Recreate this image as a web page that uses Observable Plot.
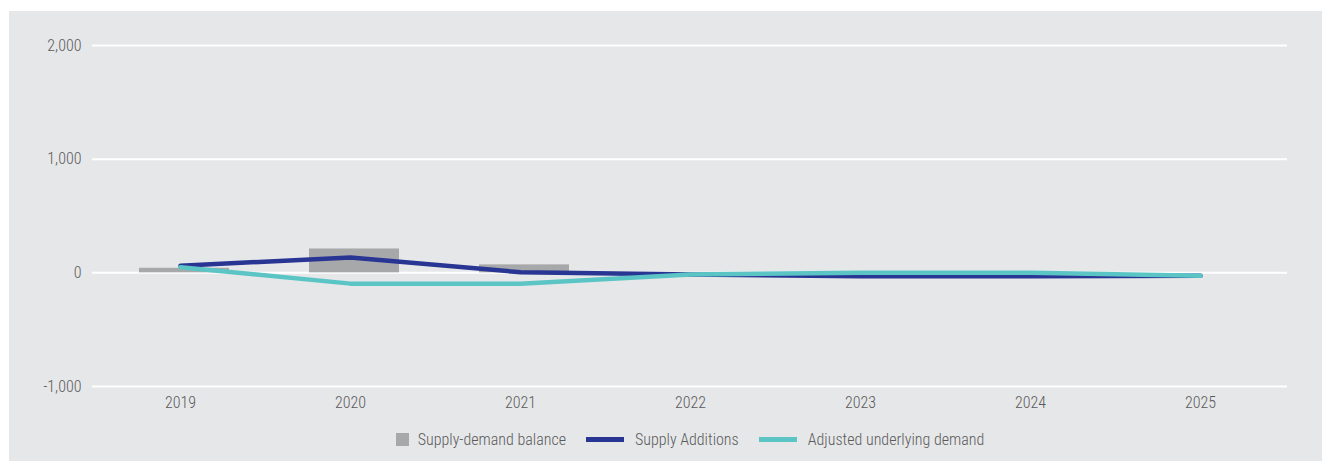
<!DOCTYPE html>
<html>
<head>
<meta charset="utf-8">
<script src="https://cdn.jsdelivr.net/npm/d3@7"></script>
<script src="https://cdn.jsdelivr.net/npm/@observablehq/plot@0.6"></script>
<style>
  html, body { margin: 0; padding: 0; background: #ffffff; }
  #panel {
    position: absolute; left: 9px; top: 11px; width: 1313px; height: 450px;
    background: #e6e7e9; font-family: "Liberation Sans Narrow", "Roboto Condensed", "DejaVu Sans Condensed", sans-serif;
  }
  #legend {
    position: absolute; left: 0; top: 419px; width: 1362px; display: flex; justify-content: center;
    align-items: center; font-size: 16px; color: #5a5a5a; font-weight: 300;
  }
  .item { display: flex; align-items: center; margin: 0 10px; }
  .sq { width: 13px; height: 13px; background: #a7a8aa; margin-right: 9px; }
  .ln { width: 38px; height: 5px; margin-right: 11px; }
</style>
</head>
<body>
<div id="panel">
  <div id="chart"></div>
  <div id="legend">
    <div class="item"><div class="sq"></div><span>Supply-demand balance</span></div>
    <div class="item"><div class="ln" style="background:#283593"></div><span>Supply Additions</span></div>
    <div class="item"><div class="ln" style="background:#5bc5c5"></div><span>Adjusted underlying demand</span></div>
  </div>
</div>
<script>
const years = ["2019", "2020", "2021", "2022", "2023", "2024", "2025"];
const balance = [40, 210, 70, 0, -35, -35, 0];
const supplyAdditions = [62, 135, 5, -15, -30, -30, -25];
const adjustedDemand = [50, -95, -95, -15, 0, 0, -25];
const yTicks = [-1000, 0, 1000, 2000];

const rows = years.map((y, i) => ({year: y, balance: balance[i], supply: supplyAdditions[i], demand: adjustedDemand[i]}));
const fmt = d => d3.format(",")(d).replace("\u2212", "-");

const chart = Plot.plot({
  width: 1313,
  height: 405,
  marginLeft: 83,
  marginRight: 35,
  marginTop: 34,
  marginBottom: 30,
  style: {background: "transparent", fontFamily: "'Liberation Sans Narrow', 'Roboto Condensed', 'DejaVu Sans Condensed', sans-serif", fontSize: "16px", color: "#5a5a5a", fontWeight: 300},
  x: {domain: years, padding: 0, label: null},
  y: {domain: [-1000, 2000], label: null},
  marks: [
    Plot.gridY(yTicks, {stroke: "#ffffff", strokeOpacity: 1, strokeWidth: 2}),
    Plot.axisY(yTicks, {tickSize: 0, tickPadding: 11, tickFormat: fmt, fill: "#5a5a5a", fontSize: 16, fontWeight: 300, label: null}),
    Plot.axisX({tickSize: 0, tickPadding: 10, fill: "#5a5a5a", fontSize: 16, fontWeight: 300, label: null}),
    Plot.barY(rows, {x: "year", y: "balance", fill: "#a7a8aa", insetLeft: 44, insetRight: 36}),
    Plot.line(rows, {x: "year", y: "supply", stroke: "#283593", strokeWidth: 4.5, curve: "linear", strokeLinecap: "round", strokeLinejoin: "round"}),
    Plot.line(rows, {x: "year", y: "demand", stroke: "#5bc5c5", strokeWidth: 4.5, curve: "linear", strokeLinecap: "round", strokeLinejoin: "round"})
  ]
});
document.getElementById("chart").appendChild(chart);
</script>
</body>
</html>
